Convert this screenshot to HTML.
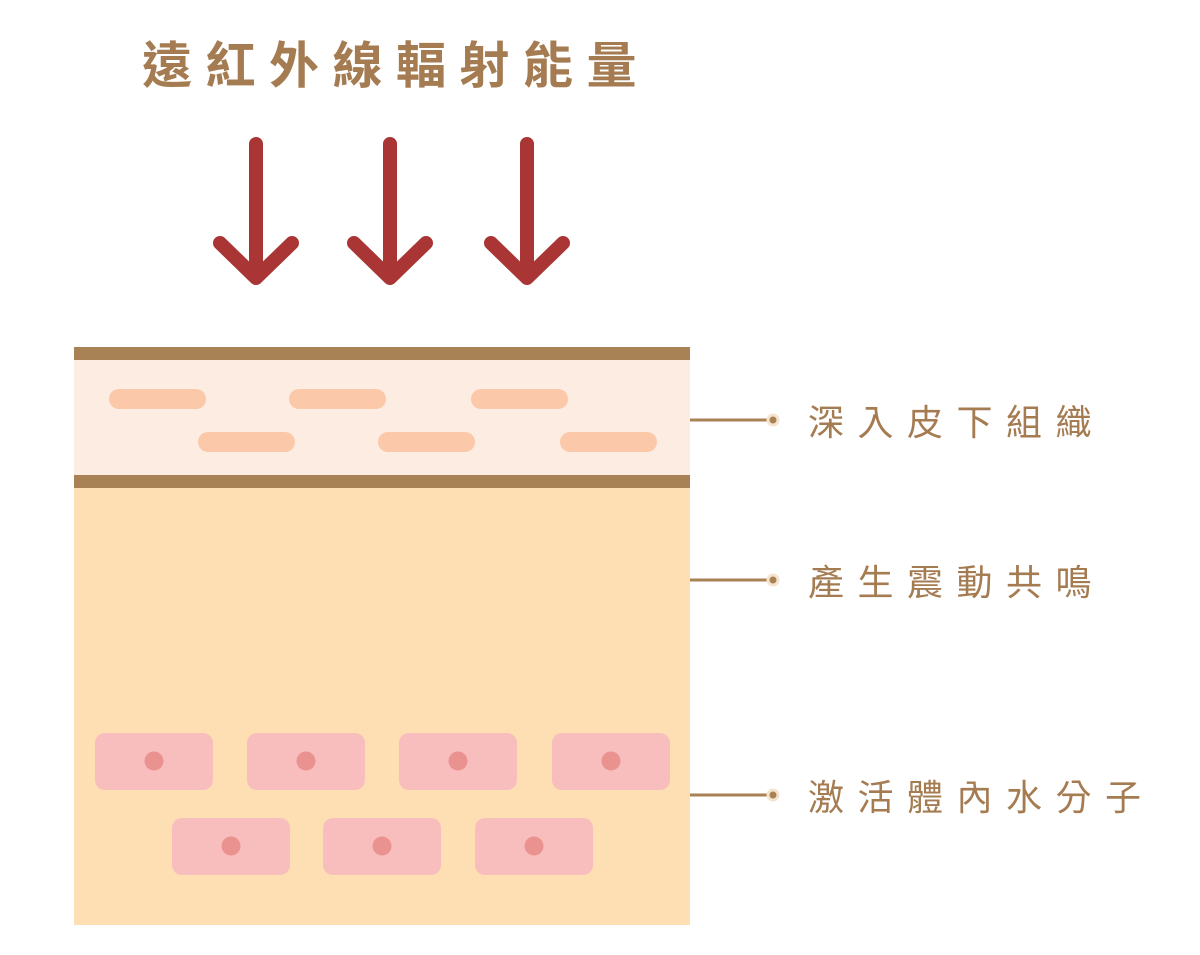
<!DOCTYPE html>
<html><head><meta charset="utf-8"><style>
body{margin:0;background:#fff;}
svg text{font-family:"Liberation Sans","Noto Sans CJK TC",sans-serif;fill:#a57c52;}
</style></head><body>
<svg width="1200" height="950" viewBox="0 0 1200 950" xmlns="http://www.w3.org/2000/svg">
<text x="142" y="83" font-size="50" font-weight="bold" letter-spacing="13.5">遠紅外線輻射能量</text>
<g stroke="#a93535" stroke-width="14" stroke-linecap="round" stroke-linejoin="round" fill="none">
<path d="M256 144V276M220 243L256 278L292 243"/>
<path d="M390 144V276M354 243L390 278L426 243"/>
<path d="M527 144V276M491 243L527 278L563 243"/>
</g>
<rect x="74" y="347" width="616" height="13" fill="#a88155"/>
<rect x="74" y="360" width="616" height="115" fill="#fdece2"/>
<rect x="74" y="475" width="616" height="13" fill="#a88155"/>
<rect x="74" y="488" width="616" height="437" fill="#fddfb3"/>
<g fill="#fbc9aa">
<rect x="109" y="389" width="97" height="20" rx="10"/>
<rect x="289" y="389" width="97" height="20" rx="10"/>
<rect x="471" y="389" width="97" height="20" rx="10"/>
<rect x="198" y="432" width="97" height="20" rx="10"/>
<rect x="378" y="432" width="97" height="20" rx="10"/>
<rect x="560" y="432" width="97" height="20" rx="10"/>
</g>
<g fill="#f8bebd">
<rect x="95" y="733" width="118" height="57" rx="10"/>
<rect x="247" y="733" width="118" height="57" rx="10"/>
<rect x="399" y="733" width="118" height="57" rx="10"/>
<rect x="552" y="733" width="118" height="57" rx="10"/>
<rect x="172" y="818" width="118" height="57" rx="10"/>
<rect x="323" y="818" width="118" height="57" rx="10"/>
<rect x="475" y="818" width="118" height="57" rx="10"/>
</g>
<g fill="#ea9290">
<circle cx="154" cy="761" r="9.5"/><circle cx="306" cy="761" r="9.5"/><circle cx="458" cy="761" r="9.5"/><circle cx="611" cy="761" r="9.5"/>
<circle cx="231" cy="846" r="9.5"/><circle cx="382" cy="846" r="9.5"/><circle cx="534" cy="846" r="9.5"/>
</g>
<g stroke="#a88155" stroke-width="3">
<line x1="690" y1="420" x2="768" y2="420"/>
<line x1="690" y1="580" x2="768" y2="580"/>
<line x1="690" y1="795" x2="768" y2="795"/>
</g>
<g fill="#a88155" stroke="#f3e3cf" stroke-width="3">
<circle cx="773" cy="420" r="5"/><circle cx="773" cy="580" r="5"/><circle cx="773" cy="795" r="5"/>
</g>
<text x="808" y="435" font-size="36" letter-spacing="13.5">深入皮下組織</text>
<text x="808" y="595" font-size="36" letter-spacing="13.5">產生震動共鳴</text>
<text x="808" y="810" font-size="36" letter-spacing="13.5">激活體內水分子</text>
</svg>
</body></html>
